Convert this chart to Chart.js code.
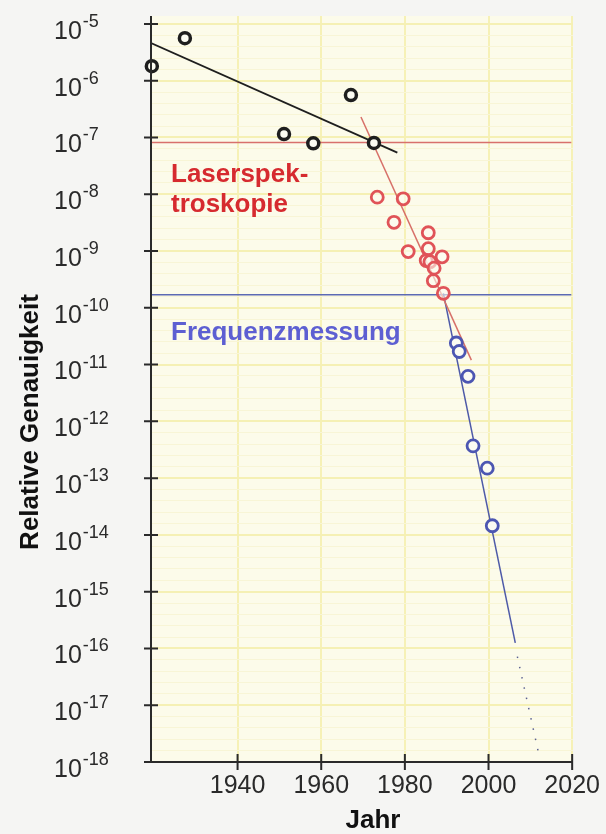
<!DOCTYPE html>
<html>
<head>
<meta charset="utf-8">
<script src="https://cdn.jsdelivr.net/npm/chart.js@4.4.1/dist/chart.umd.min.js"></script>
<style>
  html, body { margin: 0; padding: 0; background: #f5f5f3; }
  #wrap { width: 606px; height: 834px; }
</style>
</head>
<body>
<div id="wrap"><canvas id="precisionChart" width="606" height="834"></canvas></div>
<script>
const blackYears = [1919.5, 1927.4, 1951.1, 1958.1, 1967.1, 1972.6];
const blackValues = [1.8e-6, 5.6e-6, 1.15e-7, 7.9e-8, 5.6e-7, 8.0e-8];

const redYears = [1973.4, 1979.6, 1977.4, 1985.6, 1980.8, 1985.6, 1988.9, 1985.1, 1986.0, 1987.0, 1986.8, 1989.2];
const redValues = [8.9e-9, 8.3e-9, 3.2e-9, 2.1e-9, 9.8e-10, 1.1e-9, 7.9e-10, 6.8e-10, 6.5e-10, 5.0e-10, 3.0e-10, 1.8e-10];

const blueYears = [1992.3, 1993.0, 1995.1, 1996.3, 1999.7, 2000.9];
const blueValues = [2.4e-11, 1.7e-11, 6.2e-12, 3.7e-13, 1.5e-13, 1.45e-14];

// trend lines (start / end)
const blackFitYears = [1919.3, 1978.2];
const blackFitValues = [4.6e-6, 5.4e-8];
const redFitYears = [1969.5, 1995.9];
const redFitValues = [2.3e-7, 1.2e-11];
const blueFitYears = [1989.2, 2006.4];
const blueFitValues = [1.8e-10, 1.25e-16];
const blueExtYears = [2006.9, 2012.1];
const blueExtValues = [7.2e-17, 1.3e-18];

// horizontal limits
const laserLimitYears = [1919.3, 2019.8];
const laserLimitValues = [8.2e-8, 8.2e-8];
const freqLimitYears = [1919.3, 2019.8];
const freqLimitValues = [1.7e-10, 1.7e-10];

// axes
const yearTicks = [1940, 1960, 1980, 2000, 2020];
const decadeExponents = [-5, -6, -7, -8, -9, -10, -11, -12, -13, -14, -15, -16, -17, -18];

const pts = (xs, ys) => xs.map((x, i) => ({ x: x, y: ys[i] }));

const lineSet = (data, color, width, dash) => ({
    data: data,
    showLine: true,
    borderColor: color,
    borderWidth: width,
    borderDash: dash || [],
    pointRadius: 0,
    fill: false
});

const paperPlugin = {
    id: 'paper',
    beforeDraw(chart) {
        const { ctx, chartArea: a } = chart;
        ctx.save();
        ctx.fillStyle = '#f5f5f3';
        ctx.fillRect(0, 0, chart.width, chart.height);
        ctx.fillStyle = '#fcfbea';
        ctx.fillRect(a.left, a.top, a.right - a.left, a.bottom - a.top);
        ctx.restore();
    },
    afterDraw(chart) {
        const { ctx, chartArea: a } = chart;
        const xs = chart.scales.x, ys = chart.scales.y;
        ctx.save();
        ctx.strokeStyle = '#2a2a2a';
        ctx.lineWidth = 2;
        // axis lines
        ctx.beginPath();
        ctx.moveTo(a.left, a.top);
        ctx.lineTo(a.left, a.bottom);
        ctx.moveTo(a.left - 4, a.bottom);
        ctx.lineTo(xs.getPixelForValue(2020), a.bottom);
        ctx.stroke();
        // ticks crossing the axes
        ctx.beginPath();
        decadeExponents.forEach(e => {
            const y = ys.getPixelForValue(Math.pow(10, e));
            ctx.moveTo(a.left - 7, y);
            ctx.lineTo(a.left + 7, y);
        });
        yearTicks.forEach(v => {
            const x = xs.getPixelForValue(v);
            ctx.moveTo(x, a.bottom - 8);
            ctx.lineTo(x, a.bottom + 8);
        });
        ctx.stroke();

        // y tick labels 10^e
        ctx.fillStyle = '#2a2a2a';
        ctx.textAlign = 'left';
        ctx.textBaseline = 'middle';
        decadeExponents.forEach(e => {
            const y = ys.getPixelForValue(Math.pow(10, e));
            ctx.font = '25px "Liberation Sans", Arial, sans-serif';
            ctx.fillText('10', 54, y + 8);
            const w = ctx.measureText('10').width;
            ctx.font = '18px "Liberation Sans", Arial, sans-serif';
            ctx.fillText(String(e), 54 + w + 1, y - 2);
        });

        // x tick labels
        ctx.textAlign = 'center';
        ctx.font = '25px "Liberation Sans", Arial, sans-serif';
        yearTicks.forEach(v => {
            ctx.fillText(String(v), xs.getPixelForValue(v), 786);
        });

        // axis titles
        ctx.fillStyle = '#111';
        ctx.font = 'bold 26px "Liberation Sans", Arial, sans-serif';
        ctx.fillText('Jahr', 373, 821);
        ctx.save();
        ctx.translate(31, 422);
        ctx.rotate(-Math.PI / 2);
        ctx.fillText('Relative Genauigkeit', 0, 0);
        ctx.restore();

        // region labels
        ctx.textAlign = 'left';
        ctx.textBaseline = 'alphabetic';
        ctx.font = 'bold 26px "Liberation Sans", Arial, sans-serif';
        ctx.fillStyle = '#d62a2f';
        ctx.fillText('Laserspek-', 171, 182);
        ctx.fillText('troskopie', 171, 212);
        ctx.fillStyle = '#5d5fd2';
        ctx.fillText('Frequenzmessung', 171, 340);
        ctx.restore();
    }
};

const ctx = document.getElementById('precisionChart').getContext('2d');
const precisionChart = new Chart(ctx, {
    type: 'scatter',
    data: {
        datasets: [
            {
                data: pts(blackYears, blackValues),
                clip: false,
                pointRadius: 5.5,
                pointBorderWidth: 3.5,
                pointBorderColor: '#1e1e1e',
                pointBackgroundColor: '#fbfbf2'
            },
            {
                data: pts(redYears, redValues),
                clip: false,
                pointRadius: 6,
                pointBorderWidth: 2.8,
                pointBorderColor: '#e05358',
                pointBackgroundColor: 'rgba(252,251,240,0.6)'
            },
            {
                data: pts(blueYears, blueValues),
                clip: false,
                pointRadius: 6,
                pointBorderWidth: 2.8,
                pointBorderColor: '#4c56b2',
                pointBackgroundColor: '#fbfbf2'
            },
            lineSet(pts(blackFitYears, blackFitValues), '#1e1e1e', 1.8),
            lineSet(pts(redFitYears, redFitValues), '#d77068', 1.5),
            lineSet(pts(blueFitYears, blueFitValues), '#4e5aa8', 1.5),
            lineSet(pts(blueExtYears, blueExtValues), '#5a6090', 1.5, [1.5, 9]),
            lineSet(pts(laserLimitYears, laserLimitValues), '#d8706c', 1.5),
            lineSet(pts(freqLimitYears, freqLimitValues), '#5c6ab4', 1.5)
        ]
    },
    options: {
        responsive: false,
        animation: false,
        devicePixelRatio: 1,
        layout: { padding: { left: 151, right: 33, top: 16, bottom: 72 } },
        plugins: {
            legend: { display: false },
            tooltip: { enabled: false }
        },
        scales: {
            x: {
                type: 'linear',
                min: 1919.3,
                max: 2020.2,
                afterBuildTicks: scale => {
                    scale.ticks = yearTicks.map(v => ({ value: v }));
                },
                ticks: { display: false },
                border: { display: false },
                grid: { color: '#f6f1b6', lineWidth: 2, drawTicks: false }
            },
            y: {
                type: 'logarithmic',
                min: 1e-18,
                max: 1.38e-5,
                afterBuildTicks: scale => {
                    const t = [];
                    decadeExponents.forEach(e => {
                        t.push({ value: Math.pow(10, e), major: true });
                        if (e > -18) {
                            [0.2, 0.4, 0.6, 0.8].forEach(f => t.push({ value: Math.pow(10, e - f), major: false }));
                        }
                    });
                    scale.ticks = t;
                },
                ticks: { display: false },
                border: { display: false },
                grid: {
                    drawTicks: false,
                    color: c => (c.tick && c.tick.major) ? '#f5f0b4' : '#f8f5d6',
                    lineWidth: c => (c.tick && c.tick.major) ? 2 : 1
                }
            }
        }
    },
    plugins: [paperPlugin]
});
</script>
</body>
</html>
